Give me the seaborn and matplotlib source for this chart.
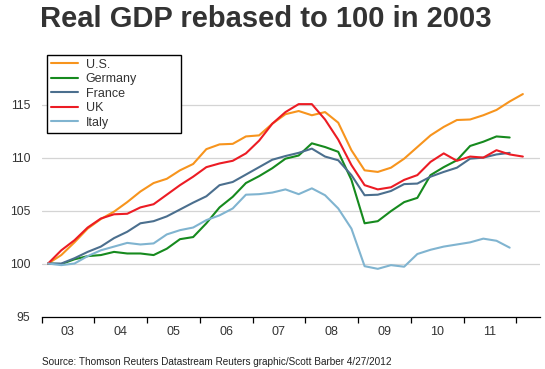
import numpy as np
import pandas as pd
import matplotlib
matplotlib.use("Agg")
import matplotlib.pyplot as plt
import seaborn as sns

# quarterly real GDP, 2003 Q1 = 100 (US/UK include 2012 Q1)
us = [100, 100.8, 102.0, 103.3, 104.2, 104.9, 105.8, 106.8, 107.6, 108.0,
      108.8, 109.4, 110.8, 111.25, 111.3, 112.0, 112.1, 113.2, 114.1, 114.4,
      114.0, 114.3, 113.3, 110.7, 108.8, 108.65, 109.05, 109.9, 111.0, 112.1,
      112.9, 113.55, 113.6, 114.0, 114.5, 115.3, 116.0]
germany = [100, 99.95, 100.4, 100.7, 100.8, 101.1, 100.95, 100.95, 100.8, 101.4,
           102.3, 102.5, 103.8, 105.3, 106.3, 107.6, 108.25, 109.0, 109.9, 110.2,
           111.35, 111.0, 110.55, 107.9, 103.8, 104.0, 104.95, 105.8, 106.2, 108.35,
           109.1, 109.75, 111.1, 111.5, 112.0, 111.9]
france = [100, 100.0, 100.5, 101.1, 101.6, 102.4, 103.0, 103.8, 104.0, 104.45,
          105.1, 105.75, 106.35, 107.4, 107.7, 108.4, 109.1, 109.8, 110.15, 110.45,
          110.85, 110.1, 109.75, 108.35, 106.45, 106.5, 106.85, 107.5, 107.55, 108.2,
          108.65, 109.05, 109.9, 110.0, 110.3, 110.45]
uk = [100, 101.25, 102.2, 103.4, 104.25, 104.65, 104.7, 105.3, 105.6, 106.5,
      107.4, 108.2, 109.1, 109.45, 109.7, 110.4, 111.6, 113.2, 114.3, 115.05,
      115.05, 113.6, 111.7, 109.3, 107.4, 107.0, 107.2, 107.9, 108.35, 109.6,
      110.4, 109.7, 110.1, 110.0, 110.7, 110.3, 110.1]
italy = [100, 99.85, 100.0, 100.7, 101.25, 101.6, 101.95, 101.8, 101.9, 102.75,
         103.15, 103.4, 104.1, 104.55, 105.2, 106.5, 106.55, 106.7, 107.0, 106.55,
         107.1, 106.45, 105.2, 103.3, 99.75, 99.5, 99.85, 99.7, 100.9, 101.3,
         101.6, 101.8, 102.0, 102.35, 102.15, 101.5]

countries = ["U.S.", "Germany", "France", "UK", "Italy"]
colors = ["#F7941D", "#168A1E", "#4B6F8E", "#EC1C24", "#80B4D0"]
year_labels = ["03", "04", "05", "06", "07", "08", "09", "10", "11"]
y_ticks = [95, 100, 105, 110, 115]

rows = []
for name, vals in zip(countries, [us, germany, france, uk, italy]):
    for i, v in enumerate(vals):
        rows.append({"country": name, "q": i + 0.5, "gdp": v})
df = pd.DataFrame(rows)

sns.set_style("white")
plt.rcParams["font.family"] = ["Liberation Sans", "DejaVu Sans"]

fig = plt.figure(figsize=(5.45, 3.69), dpi=100)
ax = fig.add_axes([41.5 / 545, 52.5 / 369, 498.5 / 545, 264.8 / 369])

sns.lineplot(data=df, x="q", y="gdp", hue="country", hue_order=countries,
             palette=colors, linewidth=1.5, sort=False, ax=ax, legend=False)

ax.set_xlim(0, 37.8)
ax.set_ylim(95, 120)
ax.set_xlabel("")
ax.set_ylabel("")

ax.set_yticks(y_ticks)
ax.set_yticklabels([str(t) for t in y_ticks])
ax.tick_params(axis="y", length=0, pad=8, labelsize=8.8, labelcolor="#333333")
for t in y_ticks[1:]:
    ax.axhline(t, color="#d4d4d4", linewidth=0.9, zorder=0)

ax.set_xticks(np.arange(0, 37, 4))
ax.set_xticklabels([])
ax.set_xticks(np.arange(2, 36, 4), minor=True)
ax.set_xticklabels(year_labels, minor=True)
ax.tick_params(axis="x", which="major", direction="out", length=4, width=0.9, color="black", bottom=True)
ax.tick_params(axis="x", which="minor", length=0, pad=7, labelsize=9, labelcolor="#333333")

for s in ["top", "right", "left"]:
    ax.spines[s].set_visible(False)
ax.spines["bottom"].set_color("black")
ax.spines["bottom"].set_linewidth(0.9)

handles = [plt.Line2D([], [], color=c, linewidth=1.5) for c in colors]
leg = fig.legend(handles, countries, loc="upper left",
                 bbox_to_anchor=(47 / 545, 1 - 131 / 369, 134 / 545, 76 / 369),
                 bbox_transform=fig.transFigure, mode="expand", borderaxespad=0,
                 fontsize=9, handlelength=2.2, handletextpad=0.6, labelspacing=0.2,
                 borderpad=0.3, fancybox=False, framealpha=1)
leg.get_frame().set_edgecolor("black")
leg.get_frame().set_linewidth(1.0)
for txt in leg.get_texts():
    txt.set_color("#333333")

fig.text(266 / 545, 1 - 19 / 369, "Real GDP rebased to 100 in 2003", ha="center", va="center",
         fontsize=21, fontweight="bold", color="#333333")
fig.text(42 / 545, 1 - 362 / 369, "Source: Thomson Reuters Datastream Reuters graphic/Scott Barber 4/27/2012",
         ha="left", va="center", fontsize=7.2, color="#222222")

fig.savefig("out.png", dpi=100)
